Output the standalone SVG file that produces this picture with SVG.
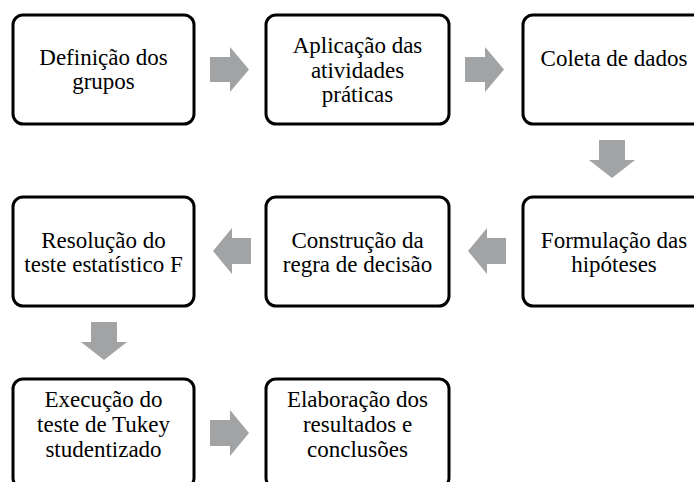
<svg xmlns="http://www.w3.org/2000/svg" width="694" height="482" viewBox="0 0 694 482">
<style>
.box{fill:#fff;stroke:#000;stroke-width:3}
.arr{fill:#a1a3a4}
text{font-family:"Liberation Serif","Times New Roman",serif;font-size:23px;fill:#000;text-anchor:middle}
</style>
<rect width="694" height="482" fill="#fff"/>
<g id="connectors">
<polygon class="arr" points="210,57 230,57 230,47 249,69.5 230,92 230,82 210,82"/>
<polygon class="arr" points="465,57 485,57 485,47 504,69.5 485,92 485,82 465,82"/>
<polygon class="arr" points="599,140 625,140 625,160 635,160 612,178 589,160 599,160"/>
<polygon class="arr" points="506,238 487,238 487,228 468,251 487,274 487,264 506,264"/>
<polygon class="arr" points="251,238 232,238 232,228 213,251 232,274 232,264 251,264"/>
<polygon class="arr" points="91,322 117,322 117,342 127,342 104,360 81,342 91,342"/>
<polygon class="arr" points="210,420 230,420 230,410 249,433 230,456 230,446 210,446"/>
</g>
<g id="n1"><rect class="box" x="13" y="15" width="181" height="109" rx="10"/>
<text x="103.5" y="65">Definição dos</text><text x="103.5" y="89">grupos</text></g>
<g id="n2"><rect class="box" x="266" y="15" width="183" height="109" rx="10"/>
<text x="357.5" y="53">Aplicação das</text><text x="357.5" y="77.5">atividades</text><text x="357.5" y="102">práticas</text></g>
<g id="n3"><rect class="box" x="523" y="15" width="183" height="109" rx="10"/>
<text x="614" y="66">Coleta de dados</text></g>
<g id="n4"><rect class="box" x="523" y="197" width="183" height="109" rx="10"/>
<text x="614" y="248">Formulação das</text><text x="614" y="272">hipóteses</text></g>
<g id="n5"><rect class="box" x="266" y="197" width="183" height="109" rx="10"/>
<text x="357.5" y="248">Construção da</text><text x="357.5" y="272">regra de decisão</text></g>
<g id="n6"><rect class="box" x="13" y="197" width="181" height="109" rx="10"/>
<text x="103.5" y="248">Resolução do</text><text x="103.5" y="272">teste estatístico F</text></g>
<g id="n7"><rect class="box" x="13" y="379" width="181" height="109" rx="10"/>
<text x="103.5" y="407">Execução do</text><text x="103.5" y="432">teste de Tukey</text><text x="103.5" y="457">studentizado</text></g>
<g id="n8"><rect class="box" x="266" y="379" width="183" height="109" rx="10"/>
<text x="357.5" y="407">Elaboração dos</text><text x="357.5" y="432">resultados e</text><text x="357.5" y="457">conclusões</text></g>
</svg>
